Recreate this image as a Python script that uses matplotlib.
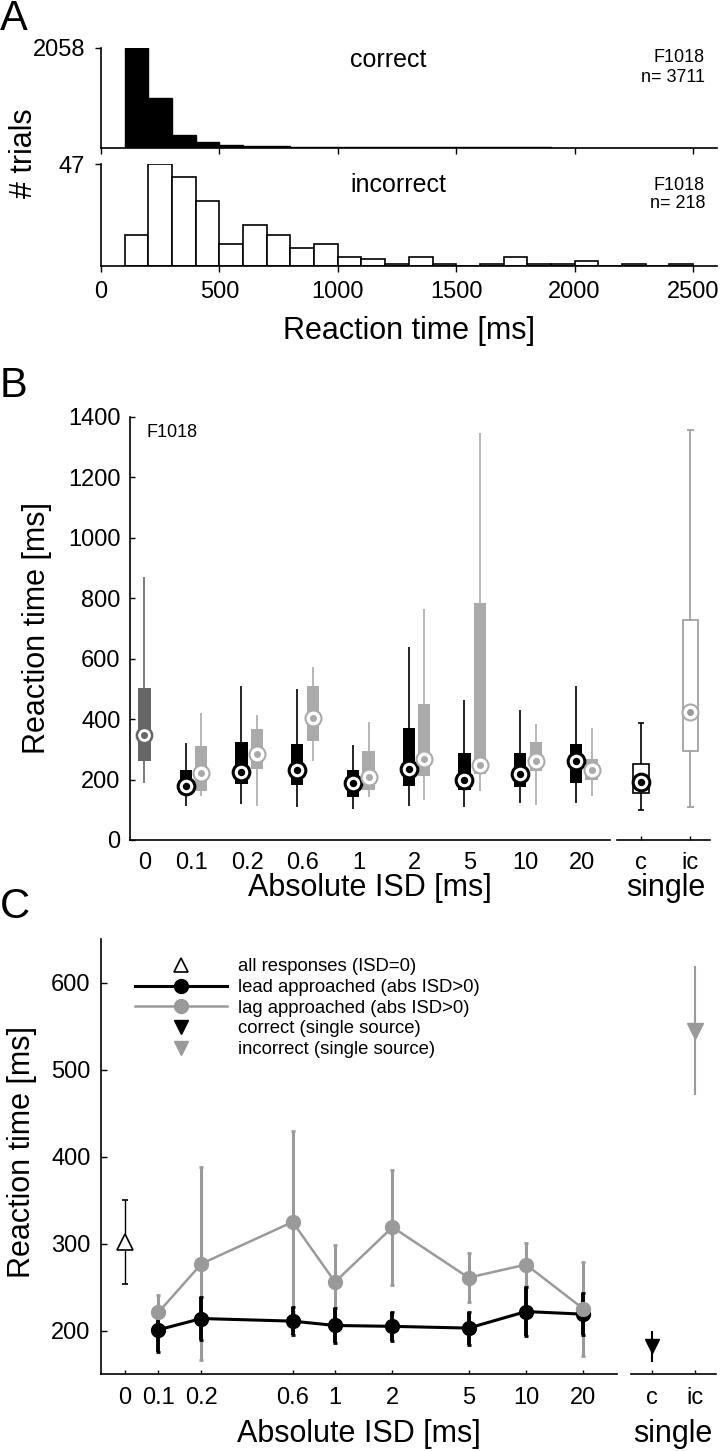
import matplotlib.pyplot as plt
import numpy as np
from matplotlib.lines import Line2D

plt.rcParams['font.family'] = ['Liberation Sans', 'DejaVu Sans']

# ---------------- data ----------------
# A: reaction time histograms (100 ms bins)
bin_left = np.arange(100, 2500, 100)
correct_counts = [2058, 1029, 260, 110, 55, 35, 25, 20, 16, 14, 12, 10,
                  9, 8, 7, 6, 5, 5, 4, 4, 3, 3, 2, 2]
incorrect_counts = [14, 47, 41, 30, 10, 19, 14, 8, 10, 4, 3, 1,
                    4, 1, 0, 1, 4, 1, 1, 2, 0, 1, 0, 1]

# B: box plots (whisker low, q1, median, q3, whisker high)
isd_labels = ['0', '0.1', '0.2', '0.6', '1', '2', '5', '10', '20']
all_box = [189, 260, 348, 504, 871]
lead_lo = [112, 120, 109, 103, 112, 109, 122, 124]
lead_q1 = [155, 185, 181, 142, 177, 165, 175, 189]
lead_med = [180, 224, 233, 189, 236, 198, 219, 260]
lead_q3 = [230, 325, 319, 233, 372, 289, 287, 319]
lead_hi = [321, 510, 498, 315, 640, 463, 431, 508]
lag_lo = [144, 112, 262, 142, 133, 163, 115, 145]
lag_q1 = [163, 235, 327, 165, 213, 219, 227, 200]
lag_med = [221, 286, 404, 207, 269, 248, 262, 233]
lag_q3 = [311, 366, 510, 293, 451, 783, 325, 269]
lag_hi = [419, 413, 573, 390, 764, 1347, 384, 370]
single_labels = ['c', 'ic']
single_box = [[100, 157, 191, 250, 386], [110, 295, 425, 727, 1355]]

# C: means and errors
all_mean, all_err = 302, 48
lead_mean = [201, 214, 211, 206, 205, 203, 222, 219]
lead_err = [25, 25, 16, 20, 17, 19, 28, 24]
lag_mean = [221, 277, 325, 256, 319, 261, 276, 225]
lag_err = [20, 111, 104, 43, 66, 28, 25, 54]
single_mean = [182, 545]
single_err = [18, 74]

gray = '#9a9a9a'
lgray = '#aaaaaa'
dgray = '#666666'

W, H = 720, 1451
fig = plt.figure(figsize=(W / 100, H / 100), dpi=100)


def px_axes(x0, y0, x1, y1):
    return fig.add_axes([x0 / W, 1 - y1 / H, (x1 - x0) / W, (y1 - y0) / H])


def ftext(x, y, s, **kw):
    fig.text(x / W, 1 - y / H, s, **kw)


def clean(ax, left=True):
    ax.spines['top'].set_visible(False)
    ax.spines['right'].set_visible(False)
    ax.spines['left'].set_visible(left)
    for sp in ax.spines.values():
        sp.set_linewidth(1.2)


# ---------------- panel A ----------------
axA1 = px_axes(101, 47.7, 716.7, 147.7)
axA2 = px_axes(101, 164.3, 716.7, 265.7)
axA1.bar(bin_left, correct_counts, width=100, align='edge',
         color='black', edgecolor='black', linewidth=1)
axA2.bar(bin_left, incorrect_counts, width=100, align='edge',
         color='white', edgecolor='black', linewidth=1.2)
for ax, top in [(axA1, max(correct_counts)), (axA2, max(incorrect_counts))]:
    clean(ax)
    ax.set_xlim(0, 2600)
    ax.set_ylim(0, top)
    ax.set_yticks([top])
    ax.set_xticks(np.arange(0, 2501, 500))
    ax.tick_params(direction='out', length=4.3, width=1, labelsize=17, pad=7)
axA1.tick_params(labelbottom=False)

ftext(350, 60, 'correct', fontsize=18, ha='left', va='center')
ftext(705, 58, 'F1018', fontsize=13, ha='right', va='center')
ftext(705, 77, 'n= 3711', fontsize=13, ha='right', va='center')
ftext(350, 185, 'incorrect', fontsize=18, ha='left', va='center')
ftext(705, 185, 'F1018', fontsize=13, ha='right', va='center')
ftext(705, 203, 'n= 218', fontsize=13, ha='right', va='center')
ftext(24, 153, '# trials', fontsize=22, rotation=90, ha='center', va='center')
ftext(409, 331, 'Reaction time [ms]', fontsize=22, ha='center', va='center')
ftext(0, 19, 'A', fontsize=30, ha='left', va='center')

# ---------------- panel B ----------------
axB = px_axes(130, 416.8, 610, 840)
axBs = px_axes(617, 416.8, 710, 840)

lead_pos = np.arange(1, 9)
lag_pos = lead_pos + 0.28
all_pos = 0.26
bw = 0.22


def med_marker(ax, x, y, edge, dot, ms, mew, dms):
    ax.plot(x, y, 'o', ms=ms, mfc='white', mec=edge, mew=mew, zorder=5)
    ax.plot(x, y, 'o', ms=dms, color=dot, zorder=6)


# all responses (ISD=0)
axB.vlines(all_pos, all_box[0], all_box[4], color=dgray, lw=1.2, zorder=2)
axB.bar(all_pos, all_box[3] - all_box[1], bottom=all_box[1], width=bw,
        color=dgray, zorder=3)
med_marker(axB, all_pos, all_box[2], dgray, dgray, 11, 1.8, 4)

# lead and lag
axB.vlines(lead_pos, lead_lo, lead_hi, color='black', lw=1.2, zorder=2)
axB.bar(lead_pos, np.subtract(lead_q3, lead_q1), bottom=lead_q1, width=bw,
        color='black', zorder=3)
axB.vlines(lag_pos, lag_lo, lag_hi, color=lgray, lw=1.2, zorder=2)
axB.bar(lag_pos, np.subtract(lag_q3, lag_q1), bottom=lag_q1, width=bw,
        color=lgray, zorder=3)
med_marker(axB, lead_pos, lead_med, 'black', 'black', 12, 2.2, 4.3)
med_marker(axB, lag_pos, lag_med, lgray, lgray, 11.5, 1.5, 4)

clean(axB)
axB.set_xlim(0, 8.61)
axB.set_ylim(0, 1400)
axB.set_yticks(np.arange(0, 1401, 200))
axB.set_xticks([all_pos] + list(lead_pos + 0.1))
axB.set_xticklabels(isd_labels)
axB.tick_params(axis='y', direction='in', length=3.5, width=1, labelsize=17, pad=6.7)
axB.tick_params(axis='x', length=0, labelsize=17, pad=8.6)

# single source
spos = np.arange(2)
for i, (box, col) in enumerate(zip(single_box, ['black', gray])):
    axBs.vlines(spos[i], box[0], box[4], color=col, lw=1.2, zorder=2)
    axBs.hlines([box[0], box[4]], spos[i] - 0.07, spos[i] + 0.07, color=col,
                lw=1.2, zorder=2)
    axBs.bar(spos[i], box[3] - box[1], bottom=box[1], width=0.32,
             color='white', edgecolor=col, linewidth=1.2, zorder=3)
med_marker(axBs, spos[0], single_box[0][2], 'black', 'black', 12, 2.2, 4.3)
med_marker(axBs, spos[1], single_box[1][2], lgray, gray, 11.5, 1.5, 4)
clean(axBs, left=False)
axBs.set_xlim(-0.485, 1.394)
axBs.set_ylim(0, 1400)
axBs.set_yticks([])
axBs.set_xticks(spos)
axBs.set_xticklabels(single_labels)
axBs.tick_params(axis='x', direction='in', length=3, width=1, labelsize=17, pad=8.6)

ftext(147, 433, 'F1018', fontsize=13, ha='left', va='center')
ftext(37, 628, 'Reaction time [ms]', fontsize=22, rotation=90, ha='center', va='center')
ftext(370, 888, 'Absolute ISD [ms]', fontsize=22, ha='center', va='center')
ftext(666, 888, 'single', fontsize=22, ha='center', va='center')
ftext(0, 386, 'B', fontsize=30, ha='left', va='center')

# ---------------- panel C ----------------
axC = px_axes(101, 939.2, 617.3, 1374.2)
axCs = px_axes(630.7, 939.2, 716, 1374.2)

c_pos = [-1.10, -0.925] + list(np.log10([0.2, 0.6, 1, 2, 5, 10, 20]))
c_all_pos = c_pos[0]
c_isd_pos = np.array(c_pos[1:])

axC.errorbar(c_all_pos, all_mean, yerr=all_err, fmt='^', ms=11, mfc='white',
             mec='black', mew=1.2, ecolor='black', elinewidth=1,
             capsize=2.5, capthick=1, zorder=3)
axC.errorbar(c_isd_pos, lag_mean, yerr=lag_err, fmt='none', ecolor=gray,
             elinewidth=2.2, capsize=1.6, capthick=2, zorder=2)
axC.errorbar(c_isd_pos, lead_mean, yerr=lead_err, fmt='-o', color='black',
             lw=2.2, ms=10, elinewidth=2.8, capsize=1.6, capthick=2, zorder=3)
axC.plot(c_isd_pos, lag_mean, '-o', color=gray, lw=1.8, ms=10, zorder=4)

clean(axC)
axC.set_xlim(-1.2251, 1.478)
axC.set_ylim(150, 650)
axC.set_yticks(np.arange(200, 601, 100))
axC.set_xticks(c_pos)
axC.set_xticklabels(isd_labels)
axC.tick_params(axis='y', direction='in', length=4, width=1, labelsize=17, pad=7.4)
axC.tick_params(axis='x', direction='in', length=3, width=1, labelsize=17, pad=9)

handles = [
    Line2D([], [], ls='none', marker='^', ms=10, mfc='white', mec='black', mew=1.2),
    Line2D([], [], color='black', lw=2.2, marker='o', ms=10),
    Line2D([], [], color=gray, lw=1.8, marker='o', ms=10),
    Line2D([], [], ls='none', marker='v', ms=10, color='black'),
    Line2D([], [], ls='none', marker='v', ms=10, color=gray),
]
labels = ['all responses (ISD=0)', 'lead approached (abs ISD>0)',
          'lag approached (abs ISD>0)', 'correct (single source)',
          'incorrect (single source)']
axC.legend(handles, labels, loc='upper left', bbox_to_anchor=(0.066, 0.956),
           frameon=False, fontsize=13.3, handlelength=5.0, handletextpad=0.55,
           labelspacing=0.2, borderpad=0, borderaxespad=0, numpoints=1)

axCs.errorbar(spos[0], single_mean[0], yerr=single_err[0], fmt='v', ms=10,
              color='black', elinewidth=1.5, capsize=0)
axCs.errorbar(spos[1], single_mean[1], yerr=single_err[1], fmt='v', ms=11,
              color=gray, elinewidth=1.5, capsize=0)
clean(axCs, left=False)
axCs.set_xlim(-0.506, 1.492)
axCs.set_ylim(150, 650)
axCs.set_yticks([])
axCs.set_xticks(spos)
axCs.set_xticklabels(single_labels)
axCs.tick_params(axis='x', direction='in', length=3, width=1, labelsize=17, pad=9)

ftext(22, 1152, 'Reaction time [ms]', fontsize=22, rotation=90, ha='center', va='center')
ftext(359, 1434, 'Absolute ISD [ms]', fontsize=22, ha='center', va='center')
ftext(673, 1434, 'single', fontsize=22, ha='center', va='center')
ftext(0, 907, 'C', fontsize=30, ha='left', va='center')

fig.savefig('out.png', dpi=100)
